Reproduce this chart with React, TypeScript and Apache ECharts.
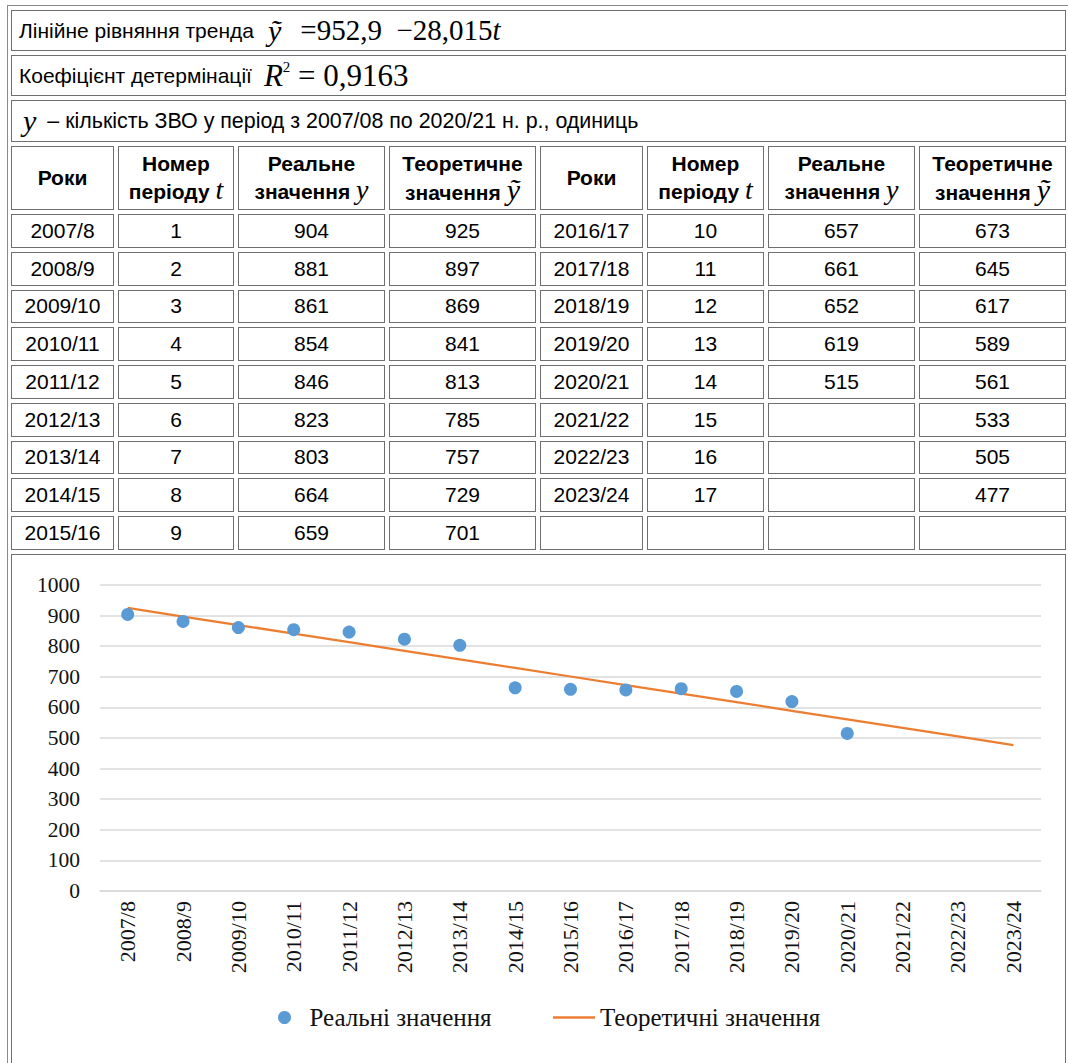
import React, { useEffect, useRef } from "react";
import * as echarts from "echarts";

// ---- data ----
const years = [
  "2007/8", "2008/9", "2009/10", "2010/11", "2011/12", "2012/13", "2013/14", "2014/15", "2015/16",
  "2016/17", "2017/18", "2018/19", "2019/20", "2020/21", "2021/22", "2022/23", "2023/24",
];
const periods = [1, 2, 3, 4, 5, 6, 7, 8, 9, 10, 11, 12, 13, 14, 15, 16, 17];
const realValues = [904, 881, 861, 854, 846, 823, 803, 664, 659, 657, 661, 652, 619, 515];
const theoreticalValues = [925, 897, 869, 841, 813, 785, 757, 729, 701, 673, 645, 617, 589, 561, 533, 505, 477];
const yAxisMin = 0;
const yAxisMax = 1000;
const yAxisStep = 100;
const seriesNames = ["Реальні значення", "Теоретичні значення"];
const trendIntercept = "952,9";
const trendSlope = "28,015";
const r2Value = "0,9163";

// ---- layout ----
const COLS = [103, 116, 147, 147, 103, 117, 147, 147];
const DATA_ROW_H = 33.75;
const ROWS = [41, 41, 42, 64, ...Array(9).fill(DATA_ROW_H), 520];
const GAP = 4;
const CELL_BORDER = "1px solid #6f6f6f";
const SANS = "'Liberation Sans', Arial, Helvetica, sans-serif";
const SERIF = "'Liberation Serif', 'Times New Roman', Times, serif";
const EC_SERIF = "Liberation Serif";
const CHART_W = 1053;
const CHART_H = 515;
const BLUE = "#5b9bd5";
const ORANGE = "#ed7d31";
const TEXT = "#111";

const cellBase: React.CSSProperties = {
  border: CELL_BORDER,
  boxSizing: "border-box",
  display: "flex",
  alignItems: "center",
  justifyContent: "center",
  fontFamily: SANS,
  fontSize: 21,
  color: "#000",
  overflow: "hidden",
};

const Tilde = ({ size }: { size: number }) => (
  <span style={{ fontFamily: SERIF, fontStyle: "italic", fontWeight: "normal", fontSize: size }}>ỹ</span>
);

function Chart() {
  const ref = useRef<HTMLDivElement>(null);
  useEffect(() => {
    if (!ref.current) return;
    const chart = echarts.init(ref.current, undefined, { renderer: "svg" });
    chart.setOption({
      animation: false,
      backgroundColor: "#fff",
      textStyle: { fontFamily: EC_SERIF },
      grid: { left: 88, top: 30, width: 941, height: 306, containLabel: false },
      xAxis: {
        type: "category",
        data: years,
        boundaryGap: true,
        axisLine: { show: true, lineStyle: { color: "#d9d9d9", width: 1.5 } },
        axisTick: { show: false },
        axisLabel: {
          rotate: 90,
          margin: 10,
          fontFamily: EC_SERIF,
          fontSize: 22,
          color: TEXT,
          interval: 0,
        },
        splitLine: { show: false },
      },
      yAxis: {
        type: "value",
        min: yAxisMin,
        max: yAxisMax,
        interval: yAxisStep,
        axisLine: { show: false },
        axisTick: { show: false },
        axisLabel: {
          fontFamily: EC_SERIF,
          fontSize: 21.5,
          color: TEXT,
          margin: 20,
          formatter: (v: number) => String(v),
        },
        splitLine: { show: true, lineStyle: { color: "#d9d9d9", width: 1.5 } },
      },
      legend: [
        {
          data: [{ name: seriesNames[0], icon: "circle" }],
          left: 261,
          top: 445,
          itemWidth: 40,
          itemHeight: 13,
          textStyle: { fontFamily: EC_SERIF, fontSize: 25, color: TEXT },
        },
        {
          data: [{ name: seriesNames[1], icon: "rect" }],
          left: 536,
          top: 445,
          itemWidth: 42,
          itemHeight: 2.5,
          textStyle: { fontFamily: EC_SERIF, fontSize: 25, color: TEXT },
        },
      ],
      series: [
        {
          name: seriesNames[0],
          type: "scatter",
          data: realValues,
          symbol: "circle",
          symbolSize: 13,
          itemStyle: { color: BLUE, opacity: 1 },
          z: 3,
        },
        {
          name: seriesNames[1],
          type: "line",
          data: theoreticalValues,
          symbol: "none",
          showSymbol: false,
          lineStyle: { color: ORANGE, width: 2.25 },
          itemStyle: { color: ORANGE },
          z: 2,
        },
      ],
    });
    return () => chart.dispose();
  }, []);
  return <div ref={ref} style={{ width: CHART_W, height: CHART_H, fontFamily: SERIF }} />;
}

export default function App() {
  const leftRows = [0, 1, 2, 3, 4, 5, 6, 7, 8];
  const rightRows = [9, 10, 11, 12, 13, 14, 15, 16, -1];

  const mathStyle: React.CSSProperties = {
    fontFamily: SERIF,
    fontStyle: "italic",
    fontWeight: "normal",
    fontSize: 28,
  };

  const headerCells = (key: string) => [
    <div key={key + "a"} style={{ ...cellBase, fontWeight: "bold" }}>Роки</div>,
    <div key={key + "b"} style={{ ...cellBase, fontWeight: "bold", flexDirection: "column", lineHeight: "26px" }}>
      <span>Номер</span>
      <span>
        періоду <span style={mathStyle}>t</span>
      </span>
    </div>,
    <div key={key + "c"} style={{ ...cellBase, fontWeight: "bold", flexDirection: "column", lineHeight: "26px" }}>
      <span>Реальне</span>
      <span>
        значення <span style={mathStyle}>y</span>
      </span>
    </div>,
    <div key={key + "d"} style={{ ...cellBase, fontWeight: "bold", flexDirection: "column", lineHeight: "26px" }}>
      <span>Теоретичне</span>
      <span>
        значення <Tilde size={30} />
      </span>
    </div>,
  ];

  const dataCells = (i: number, key: string) => {
    if (i < 0) {
      return [0, 1, 2, 3].map((k) => <div key={key + k} style={cellBase} />);
    }
    return [
      <div key={key + "a"} style={cellBase}>{years[i]}</div>,
      <div key={key + "b"} style={cellBase}>{periods[i]}</div>,
      <div key={key + "c"} style={cellBase}>{i < realValues.length ? realValues[i] : ""}</div>,
      <div key={key + "d"} style={cellBase}>{theoreticalValues[i]}</div>,
    ];
  };

  const fullRow: React.CSSProperties = {
    ...cellBase,
    gridColumn: "1 / 9",
    justifyContent: "flex-start",
    paddingLeft: 7,
  };

  return (
    <div
      style={{
        position: "absolute",
        left: 7,
        top: 5,
        border: "1px solid #8a8a8a",
        padding: "4px 3px",
        background: "#fff",
        display: "grid",
        gridTemplateColumns: COLS.map((c) => c + "px").join(" "),
        gridTemplateRows: ROWS.map((r) => r + "px").join(" "),
        gap: GAP,
      }}
    >
      <div style={fullRow}>
        <span>Лінійне рівняння тренда</span>
        <span style={{ marginLeft: 14 }}><Tilde size={30} /></span>
        <span style={{ fontFamily: SERIF, fontSize: 29, marginLeft: 19 }}>
          ={trendIntercept}&nbsp;&nbsp;−{trendSlope}
          <i>t</i>
        </span>
      </div>
      <div style={fullRow}>
        <span>Коефіцієнт детермінації</span>
        <span style={{ fontFamily: SERIF, fontSize: 31, marginLeft: 12 }}>
          <i>R</i>
          <sup style={{ fontSize: 15, verticalAlign: "14px", lineHeight: 0 }}>2</sup>
          {" = "}
          {r2Value}
        </span>
      </div>
      <div style={fullRow}>
        <span style={{ fontFamily: SERIF, fontStyle: "italic", fontSize: 30, marginLeft: 4, marginRight: 11 }}>y</span>
        <span style={{ fontSize: 21.4 }}>– кількість ЗВО у період з 2007/08 по 2020/21 н. р., одиниць</span>
      </div>
      {headerCells("hl")}
      {headerCells("hr")}
      {leftRows.map((li, r) => [...dataCells(li, "l" + r), ...dataCells(rightRows[r], "r" + r)])}
      <div style={{ ...cellBase, gridColumn: "1 / 9", alignItems: "flex-start", justifyContent: "flex-start" }}>
        <Chart />
      </div>
    </div>
  );
}
